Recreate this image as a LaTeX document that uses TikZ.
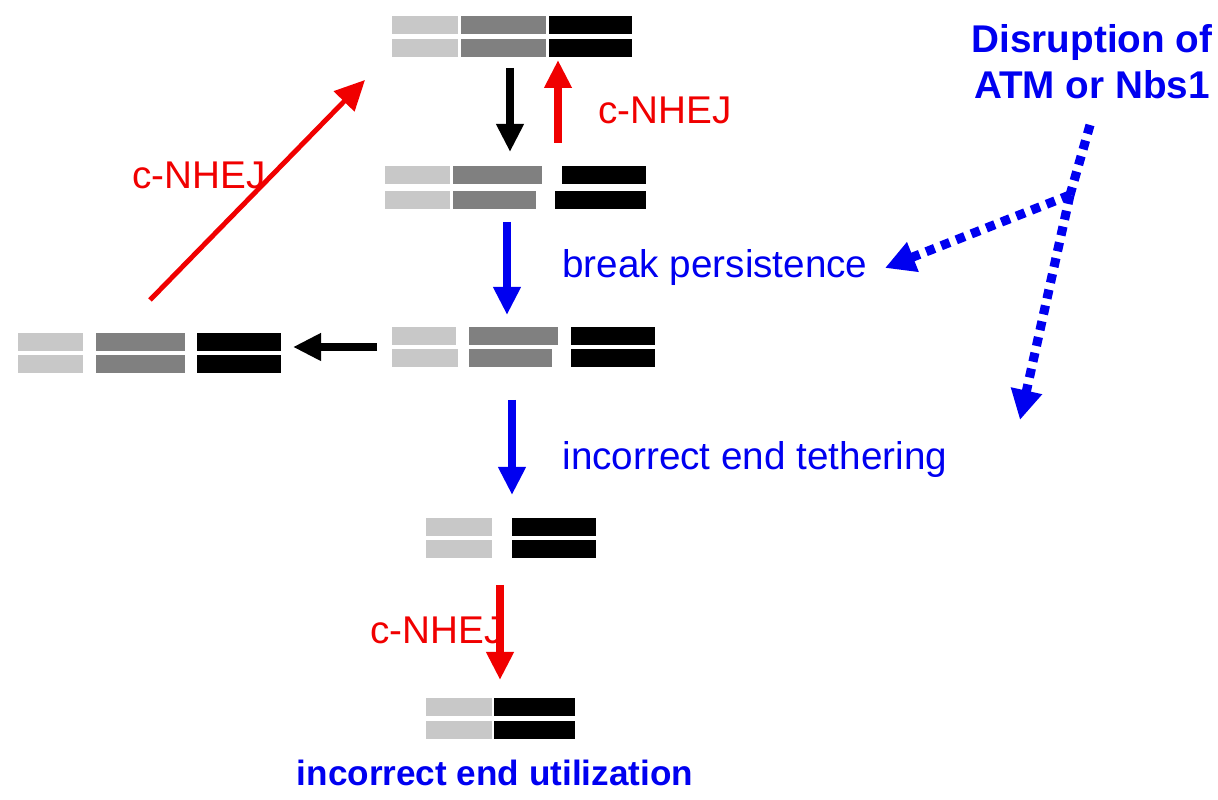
\documentclass[tikz,border=0pt]{standalone}
\usepackage{fontspec}
\setmainfont{Liberation Sans}
\usetikzlibrary{positioning,arrows.meta}
\definecolor{lightstr}{RGB}{200,200,200}
\definecolor{midstr}{RGB}{128,128,128}
\definecolor{darkstr}{RGB}{0,0,0}
\definecolor{pathblue}{RGB}{0,0,240}
\definecolor{pathred}{RGB}{240,0,0}
\tikzset{
  seg/.style={rectangle,inner sep=0pt,anchor=north west,minimum height=0.18cm},
  stepar/.style={line width=2.2pt,-{Triangle[length=0.28cm,width=0.26cm]}},
  thinstep/.style={line width=1.4pt,-{Triangle[length=0.3cm,width=0.28cm]}},
  lab/.style={font=\fontsize{11}{13}\selectfont,anchor=west},
  blab/.style={font=\bfseries\fontsize{10}{12}\selectfont,text=pathblue,align=center}
}
% strand segment: name, x left, x right, y top (pixels), colour
\newcommand{\dnastrand}[5]{%
  \node[seg,fill=#5,minimum width={(#3-#2)*0.01cm}] (#1) at ({#2*0.01},{8-#4*0.01}) {};}
\begin{document}
\begin{tikzpicture}
    \useasboundingbox (0,0) rectangle (12.18,8);

    % intact molecule
    \dnastrand{aLt}{392}{458}{15}{lightstr}
    \dnastrand{aMt}{461}{546}{15}{midstr}
    \dnastrand{aDt}{549}{632}{15}{darkstr}
    \dnastrand{aLb}{392}{458}{38}{lightstr}
    \dnastrand{aMb}{461}{546}{38}{midstr}
    \dnastrand{aDb}{549}{632}{38}{darkstr}

    % single break
    \dnastrand{bLt}{385}{450}{165}{lightstr}
    \dnastrand{bMt}{453}{542}{165}{midstr}
    \dnastrand{bDt}{562}{646}{165}{darkstr}
    \dnastrand{bLb}{385}{450}{190}{lightstr}
    \dnastrand{bMb}{453}{536}{190}{midstr}
    \dnastrand{bDb}{555}{646}{190}{darkstr}

    % two breaks
    \dnastrand{cLt}{392}{456}{326}{lightstr}
    \dnastrand{cMt}{469}{558}{326}{midstr}
    \dnastrand{cDt}{571}{655}{326}{darkstr}
    \dnastrand{cLb}{392}{458}{349}{lightstr}
    \dnastrand{cMb}{469}{552}{349}{midstr}
    \dnastrand{cDb}{571}{655}{349}{darkstr}

    % two breaks, left copy
    \dnastrand{dLt}{17}{82}{332}{lightstr}
    \dnastrand{dMt}{95}{184}{332}{midstr}
    \dnastrand{dDt}{196}{280}{332}{darkstr}
    \dnastrand{dLb}{17}{82}{355}{lightstr}
    \dnastrand{dMb}{95}{184}{355}{midstr}
    \dnastrand{dDb}{196}{280}{355}{darkstr}

    % lost middle
    \dnastrand{eLt}{426}{492}{518}{lightstr}
    \dnastrand{eDt}{512}{596}{518}{darkstr}
    \dnastrand{eLb}{426}{492}{540}{lightstr}
    \dnastrand{eDb}{512}{596}{540}{darkstr}

    % wrong joint
    \dnastrand{fLt}{426}{492}{698}{lightstr}
    \dnastrand{fDt}{494}{575}{698}{darkstr}
    \dnastrand{fLb}{426}{492}{721}{lightstr}
    \dnastrand{fDb}{494}{575}{721}{darkstr}

    % arrows between molecules
    \coordinate (k1) at (5.10,7.32);
    \coordinate (k2) at (5.10,6.48);
    \draw[stepar,black] (k1) -- (k2);
    \coordinate (r1) at (5.58,6.57);
    \coordinate (r2) at (5.58,7.40);
    \draw[stepar,pathred] (r1) -- (r2);
    \node[lab,text=pathred] (t1) at (5.86,6.90) {c-NHEJ};

    \coordinate (r3) at (1.50,5.00);
    \coordinate (r4) at (3.65,7.20);
    \draw[thinstep,pathred] (r3) -- (r4);
    \node[lab,text=pathred] (t2) at (1.20,6.25) {c-NHEJ};

    \coordinate (u1) at (5.07,5.78);
    \coordinate (u2) at (5.07,4.85);
    \draw[stepar,pathblue] (u1) -- (u2);
    \node[lab,text=pathblue] (t3) at (5.50,5.32) {break persistence};

    \coordinate (k3) at (3.77,4.53);
    \coordinate (k4) at (2.93,4.53);
    \draw[stepar,black] (k3) -- (k4);

    \coordinate (u3) at (5.12,4.00);
    \coordinate (u4) at (5.12,3.05);
    \draw[stepar,pathblue] (u3) -- (u4);
    \node[lab,text=pathblue] (t4) at (5.50,3.40) {incorrect end tethering};

    \coordinate (r5) at (5.00,2.15);
    \coordinate (r6) at (5.00,1.20);
    \draw[stepar,pathred] (r5) -- (r6);
    \node[lab,text=pathred] (t5) at (3.58,1.70) {c-NHEJ};

    \node[blab] (t6) at (4.95,0.27) {incorrect end utilization};

    % disruption branch
    \node[blab,font=\bfseries\fontsize{11}{13}\selectfont] (t7) at (10.92,7.38) {Disruption of\\ATM or Nbs1};
    \coordinate (b0) at (10.90,6.75);
    \coordinate (b1) at (10.70,6.05);
    \coordinate (b2) at (8.85,5.32);
    \coordinate (b3) at (10.20,3.80);
    \draw[line width=2.6pt,pathblue,dotted] (b0) -- (b1);
    \draw[line width=2.6pt,pathblue,dotted,-{Triangle[length=0.3cm,width=0.3cm]}] (b1) -- (b2);
    \draw[line width=2.6pt,pathblue,dotted,-{Triangle[length=0.3cm,width=0.3cm]}] (b1) -- (b3);
\end{tikzpicture}
\end{document}
